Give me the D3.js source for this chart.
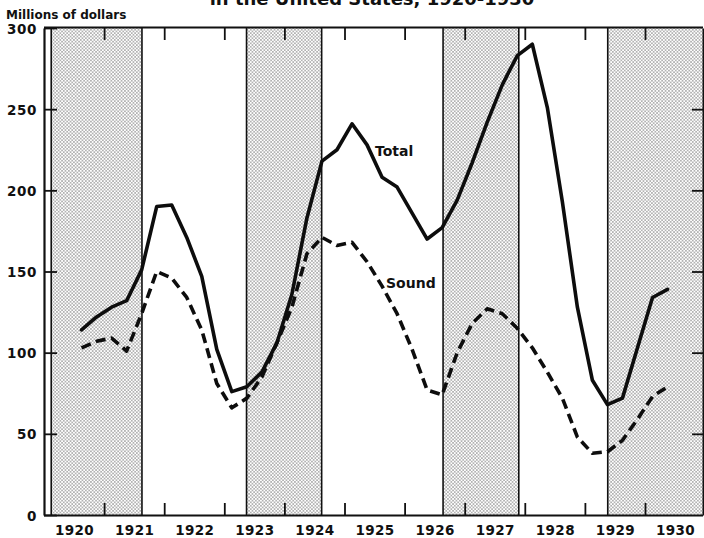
<!DOCTYPE html>
<html>
<head>
<meta charset="utf-8">
<script src="https://cdn.jsdelivr.net/npm/d3@7"></script>
<style>
  body { margin: 0; background: #fff; }
  svg { display: block; }
  text { font-family: "DejaVu Sans", sans-serif; font-weight: bold; fill: #111; }
</style>
</head>
<body>
<svg id="chart" width="704" height="538"></svg>
<script>
// Quarterly periods plotted (mid-quarter positions)
const periods = [
  "1920Q3","1920Q4",
  "1921Q1","1921Q2","1921Q3","1921Q4",
  "1922Q1","1922Q2","1922Q3","1922Q4",
  "1923Q1","1923Q2","1923Q3","1923Q4",
  "1924Q1","1924Q2","1924Q3","1924Q4",
  "1925Q1","1925Q2","1925Q3","1925Q4",
  "1926Q1","1926Q2","1926Q3","1926Q4",
  "1927Q1","1927Q2","1927Q3","1927Q4",
  "1928Q1","1928Q2","1928Q3","1928Q4",
  "1929Q1","1929Q2","1929Q3","1929Q4",
  "1930Q1","1930Q2"
];

// Millions of dollars
const total = [
  114, 122,
  128, 132, 151, 190,
  191, 171, 147, 102,
  76, 79, 88, 106,
  136, 183, 218, 225,
  241, 228, 208, 202,
  186, 170, 177, 194,
  217, 242, 265, 283,
  290, 251, 193, 128,
  83, 68, 72, 103,
  134, 139
];

const sound = [
  103, 107,
  109, 101, 124, 150,
  146, 134, 114, 81,
  66, 72, 85, 106,
  128, 161, 171, 166,
  168, 156, 141, 124,
  102, 77, 74, 100,
  118, 127, 124, 115,
  103, 88, 72, 48,
  38, 39, 46, 59,
  73, 79
];

// Business-cycle contractions (decimal years)
const contractionStart = [1920.12, 1923.37, 1926.64, 1929.38];
const contractionEnd   = [1921.63, 1924.62, 1927.90, 1931.00];

const yTicks = [0, 50, 100, 150, 200, 250, 300];
const yearLabels = ["1920","1921","1922","1923","1924","1925","1926","1927","1928","1929","1930"];

const svg = d3.select("#chart");
const plotLeft = 44, plotRight = 703, plotTop = 28, plotBottom = 515;

const x = d3.scaleLinear().domain([1920, 1931]).range([plotLeft, 705.1]);
const y = d3.scaleLinear().domain([0, 300]).range([plotBottom, plotTop]);

const toYear = p => +p.slice(0, 4) + (+p.slice(5) - 1) * 0.25 + 0.125;

// stipple pattern for contraction bands (staggered dot grid)
const cell = 3.4;
const defs = svg.append("defs");
const pat = defs.append("pattern")
  .attr("id", "stipple")
  .attr("patternUnits", "userSpaceOnUse")
  .attr("width", cell).attr("height", cell);
pat.append("rect").attr("width", cell).attr("height", cell).attr("fill", "#fff");
pat.append("circle").attr("cx", cell / 4).attr("cy", cell / 4).attr("r", 0.58).attr("fill", "#2a2a2a");
pat.append("circle").attr("cx", cell * 3 / 4).attr("cy", cell * 3 / 4).attr("r", 0.58).attr("fill", "#2a2a2a");

const bands = contractionStart.map((s, i) => ({ s, e: contractionEnd[i] }));
const bandG = svg.append("g");
bandG.selectAll("rect").data(bands).join("rect")
  .attr("x", d => x(d.s))
  .attr("y", plotTop)
  .attr("width", d => Math.min(x(d.e), plotRight) - x(d.s))
  .attr("height", plotBottom - plotTop)
  .attr("fill", "url(#stipple)");
bandG.selectAll("line.edge")
  .data(bands.flatMap(d => [d.s, d.e]).filter(v => x(v) < plotRight))
  .join("line")
  .attr("class", "edge")
  .attr("x1", d => x(d)).attr("x2", d => x(d))
  .attr("y1", plotTop).attr("y2", plotBottom)
  .attr("stroke", "#111").attr("stroke-width", 1.6);

// axes
const yearBounds = yearLabels.slice(1).map(Number);
const yearMids = yearLabels.map(v => +v + 0.5);

function styleAxis(g, width) {
  g.select(".domain").attr("stroke", "#111").attr("stroke-width", width);
  g.selectAll(".tick line").attr("stroke", "#111").attr("stroke-width", 1.8);
  g.selectAll("text").attr("font-family", "DejaVu Sans, sans-serif")
    .attr("font-weight", "bold").attr("font-size", 13.5).attr("fill", "#111");
}

svg.append("g").attr("transform", `translate(${plotLeft},0)`)
  .call(d3.axisLeft(y).tickValues(yTicks).tickSizeInner(-13).tickSizeOuter(0).tickPadding(7))
  .call(g => styleAxis(g, 2.2))
  .call(g => g.selectAll("text").attr("dy", "0.38em").attr("letter-spacing", 0.6));

svg.append("g").attr("transform", `translate(${plotRight},0)`)
  .call(d3.axisRight(y).tickValues(yTicks.slice(1, -1)).tickSizeInner(-11).tickSizeOuter(0).tickFormat(""))
  .call(g => styleAxis(g, 2));

svg.append("g").attr("transform", `translate(0,${plotBottom})`)
  .call(d3.axisBottom(x).tickValues(yearBounds).tickSizeInner(-12).tickSizeOuter(0).tickFormat(""))
  .call(g => styleAxis(g, 2.2))
  .call(g => g.select(".domain").attr("d", `M${plotLeft},0.5H${plotRight}`));

svg.append("g").attr("transform", `translate(0,${plotBottom})`)
  .call(d3.axisBottom(x).tickValues(yearMids).tickSize(0).tickPadding(10)
    .tickFormat((d, i) => yearLabels[i]))
  .call(g => styleAxis(g, 0))
  .call(g => g.select(".domain").remove())
  .call(g => g.selectAll("text").attr("letter-spacing", 0.4));

svg.append("g").attr("transform", `translate(0,${plotTop})`)
  .call(d3.axisTop(x).tickValues(yearBounds).tickSizeInner(-12).tickSizeOuter(0).tickFormat(""))
  .call(g => styleAxis(g, 2.2))
  .call(g => g.select(".domain").attr("d", `M${plotLeft},-0.5H${plotRight}`));

// series lines
const line = d3.line()
  .x(d => x(d.t))
  .y(d => y(d.v));

const totalData = periods.map((p, i) => ({ t: toYear(p), v: total[i] }));
const soundData = periods.map((p, i) => ({ t: toYear(p), v: sound[i] }));

svg.append("path").datum(totalData)
  .attr("d", line)
  .attr("fill", "none").attr("stroke", "#0d0d0d")
  .attr("stroke-width", 3.6).attr("stroke-linejoin", "round").attr("stroke-linecap", "round");

svg.append("path").datum(soundData)
  .attr("d", line)
  .attr("fill", "none").attr("stroke", "#0d0d0d")
  .attr("stroke-width", 3.6).attr("stroke-dasharray", "10,5.5")
  .attr("stroke-linejoin", "round");

// series labels
svg.append("text").attr("x", 375).attr("y", 156).attr("font-size", 14).text("Total");
svg.append("text").attr("x", 386).attr("y", 288).attr("font-size", 14).text("Sound");

// axis unit and title (title's last line runs off the top of the page)
svg.append("text").attr("x", 6).attr("y", 19).attr("font-size", 12).text("Millions of dollars");
svg.append("text").attr("x", 372).attr("y", 5).attr("text-anchor", "middle")
  .attr("font-size", 18).text("in the United States, 1920-1930");
</script>
</body>
</html>
